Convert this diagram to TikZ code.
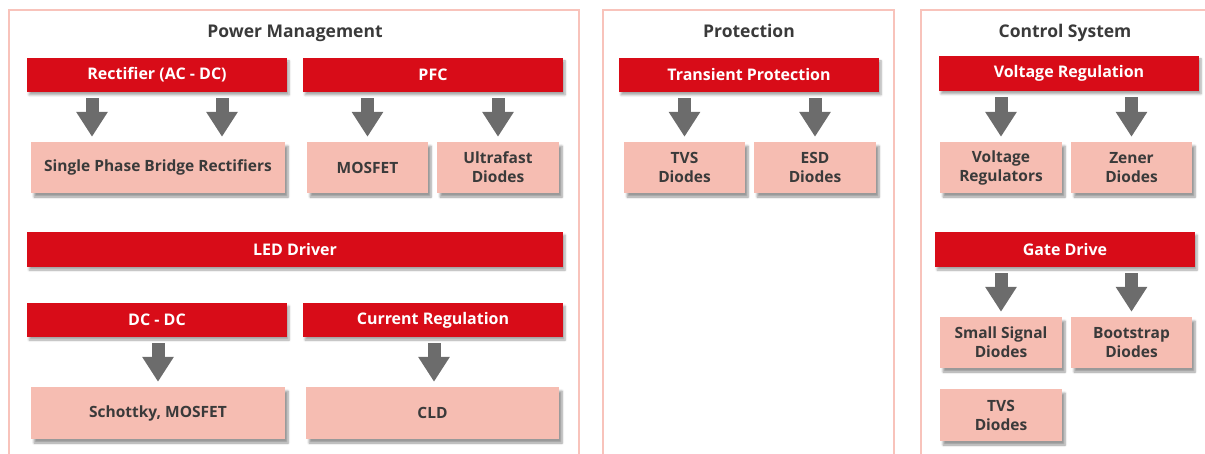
\documentclass[tikz,border=0pt]{standalone}
\usepackage{fontspec}
\setmainfont{Open Sans}
\usetikzlibrary{arrows.meta,shadows.blur,calc}
\definecolor{barred}{HTML}{D80C18}
\definecolor{boxpink}{HTML}{F6BDB2}
\definecolor{panelpink}{HTML}{F8C3BB}
\definecolor{txtgray}{HTML}{3A3A3A}
\definecolor{arrgray}{HTML}{6C6C6C}
\tikzset{
  x=1pt,y=-1pt,
  panelline/.style={draw=panelpink,line width=2pt},
  paneltitle/.style={font=\bfseries\fontsize{17.5}{20}\selectfont,text=txtgray,inner sep=0pt,anchor=base},
  redbar/.style={rectangle,fill=barred,text=white,font=\bfseries\fontsize{16}{18}\selectfont,
    minimum height=34pt,inner sep=0pt,
    blur shadow={shadow xshift=2pt,shadow yshift=-3pt,shadow blur steps=6,shadow opacity=35}},
  pinkbox/.style={rectangle,fill=boxpink,text=txtgray,font=\bfseries\fontsize{15.5}{19}\selectfont,
    minimum height=51pt,inner sep=0pt,align=center,
    blur shadow={shadow xshift=3pt,shadow yshift=-4pt,shadow blur steps=6,shadow opacity=40}},
  fatarrow/.style={draw=arrgray,line width=13pt,-{Triangle[length=25pt,width=30pt,fill=arrgray]},
    shorten <=6pt,shorten >=5pt}
}
\begin{document}
\begin{tikzpicture}
\useasboundingbox (0,0) rectangle (1205,454);
% panels
\draw[panelline] (9,456) -- (9,10) -- (579,10) -- (579,456);
\draw[panelline] (603,456) -- (603,10) -- (894,10) -- (894,456);
\draw[panelline] (921,456) -- (921,10) -- (1207,10);
\node[paneltitle] (t1) at (295,38) {Power Management};
\node[paneltitle] (t2) at (749,38) {Protection};
\node[paneltitle] (t3) at (1065,38) {Control System};
% Power management
\node[redbar,minimum width=260pt] (rect) at (157,75) {Rectifier (AC - DC)};
\node[redbar,minimum width=260pt] (pfc) at (433,75) {PFC};
\node[pinkbox,minimum width=254pt] (spbr) at (158,167.5) {Single Phase Bridge Rectifiers};
\node[pinkbox,minimum width=121pt] (mos) at (367.5,167.5) {MOSFET};
\node[pinkbox,minimum width=122pt] (ufd) at (498,167.5) {Ultrafast\\Diodes};
\node[redbar,minimum width=536pt,minimum height=35pt] (led) at (295,249.5) {LED Driver};
\node[redbar,minimum width=260pt] (dcdc) at (157,320) {DC - DC};
\node[redbar,minimum width=260pt] (creg) at (433,320) {Current Regulation};
\node[pinkbox,minimum width=254pt,minimum height=52pt] (scht) at (158,413) {Schottky, MOSFET};
\node[pinkbox,minimum width=253pt,minimum height=52pt] (cld) at (432.5,413) {CLD};
% Protection
\node[redbar,minimum width=260pt] (tp) at (749,75) {Transient Protection};
\node[pinkbox,minimum width=121pt] (tvs1) at (684.5,167.5) {TVS\\Diodes};
\node[pinkbox,minimum width=122pt] (esd) at (815,167.5) {ESD\\Diodes};
% Control system
\node[redbar,minimum width=260pt,minimum height=35pt] (vreg) at (1069,73.5) {Voltage Regulation};
\node[pinkbox,minimum width=122pt] (vr) at (1001,167.5) {Voltage\\Regulators};
\node[pinkbox,minimum width=121pt] (zen) at (1131.5,167.5) {Zener\\Diodes};
\node[redbar,minimum width=260pt,minimum height=35pt] (gd) at (1065,249.5) {Gate Drive};
\node[pinkbox,minimum width=122pt] (ssd) at (1001,342.5) {Small Signal\\Diodes};
\node[pinkbox,minimum width=121pt] (bsd) at (1131.5,342.5) {Bootstrap\\Diodes};
\node[pinkbox,minimum width=122pt,minimum height=52pt] (tvs2) at (1001,415) {TVS\\Diodes};
% arrows
\draw[fatarrow] (rect.south -| 92,0) -- (spbr.north -| 92,0);
\draw[fatarrow] (rect.south -| 222,0) -- (spbr.north -| 222,0);
\draw[fatarrow] (pfc.south -| mos) -- (mos.north);
\draw[fatarrow] (pfc.south -| ufd) -- (ufd.north);
\draw[fatarrow] (dcdc.south -| scht) -- (scht.north);
\draw[fatarrow] (creg.south -| 434,0) -- (cld.north -| 434,0);
\draw[fatarrow] (tp.south -| tvs1) -- (tvs1.north);
\draw[fatarrow] (tp.south -| esd) -- (esd.north);
\draw[fatarrow] (vreg.south -| vr) -- (vr.north);
\draw[fatarrow] (vreg.south -| zen) -- (zen.north);
\draw[fatarrow] (gd.south -| ssd) -- (ssd.north);
\draw[fatarrow] (gd.south -| bsd) -- (bsd.north);
\end{tikzpicture}
\end{document}
